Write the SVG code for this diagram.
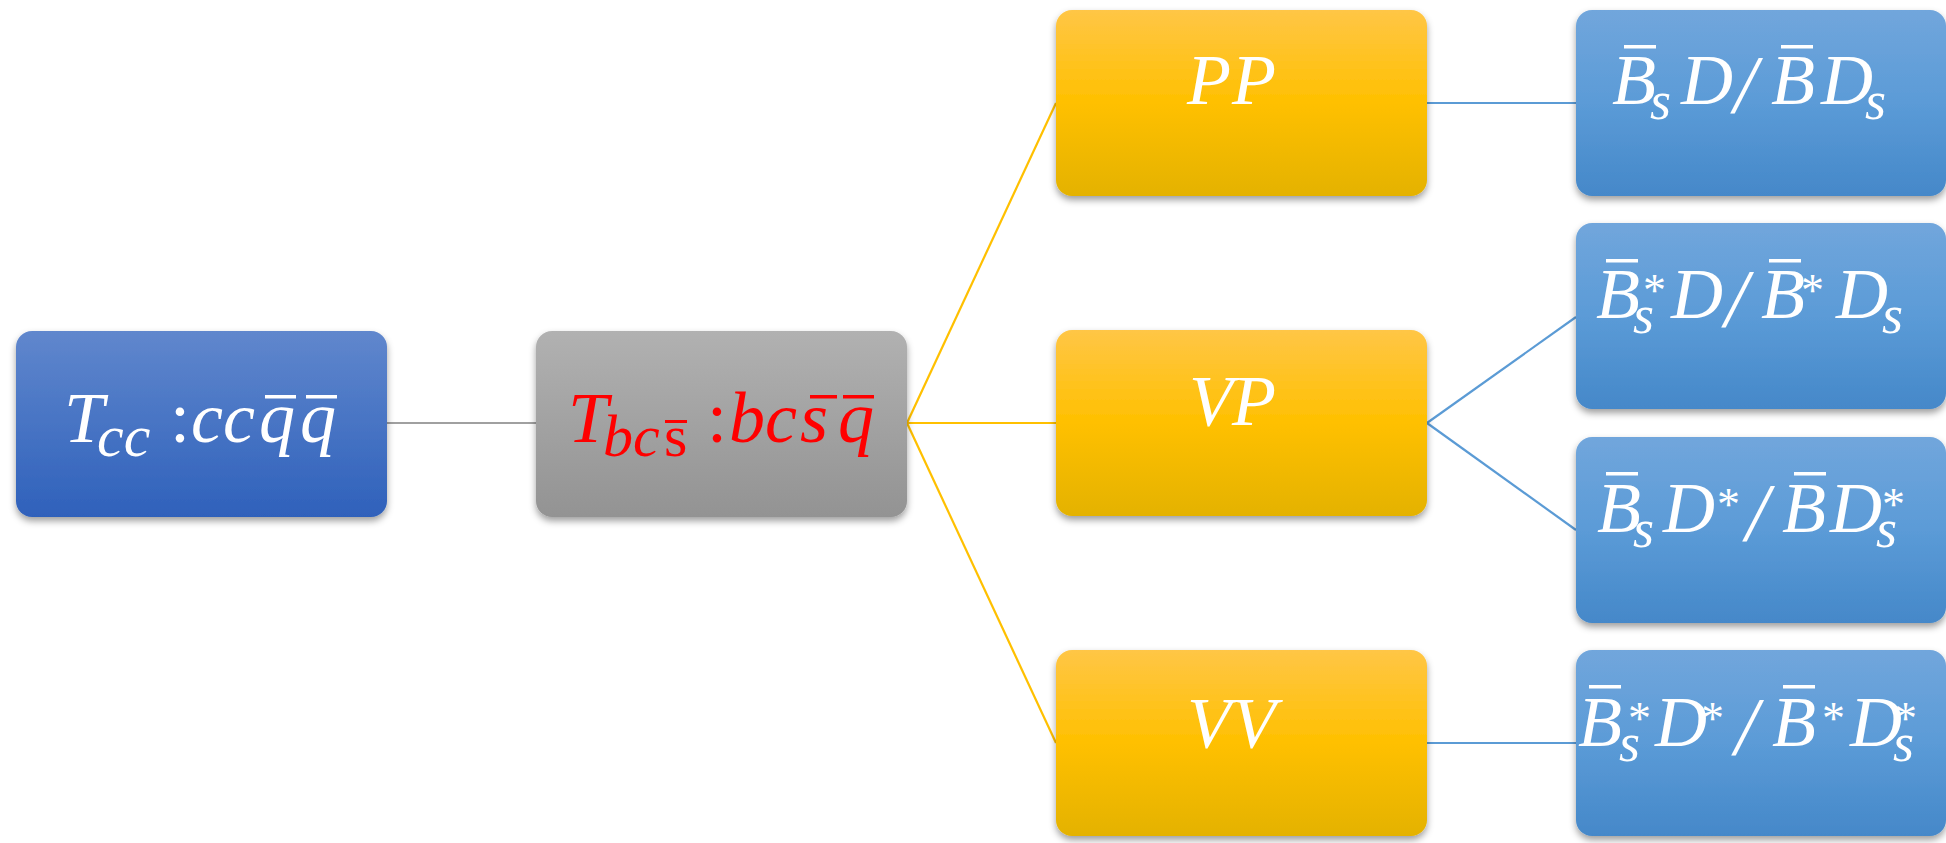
<svg xmlns="http://www.w3.org/2000/svg" width="1946" height="843" viewBox="0 0 1946 843">
<style>
.m{font-family:"Liberation Serif",serif;font-style:italic;font-size:72px;fill:#fff}
.red{fill:#ff0000}
.sub{font-size:60px}
.sub2{font-size:54px}
.sup{font-size:46px;font-style:normal}
.up{font-style:normal}
.bar{fill:#fff}
.rbar{fill:#ff0000}
.c{fill:none;stroke-width:2.2}
</style>
<defs>
<linearGradient id="gBlue" x1="0" y1="0" x2="0" y2="1"><stop offset="0" stop-color="#6087CD"/><stop offset="1" stop-color="#2F61BB"/></linearGradient>
<linearGradient id="gGray" x1="0" y1="0" x2="0" y2="1"><stop offset="0" stop-color="#B1B1B1"/><stop offset="1" stop-color="#939393"/></linearGradient>
<linearGradient id="gYel" x1="0" y1="0" x2="0" y2="1"><stop offset="0" stop-color="#FFC646"/><stop offset="0.5" stop-color="#FFC000"/><stop offset="1" stop-color="#E4B200"/></linearGradient>
<linearGradient id="gLB" x1="0" y1="0" x2="0" y2="1"><stop offset="0" stop-color="#71A6DC"/><stop offset="0.5" stop-color="#5B9BD7"/><stop offset="1" stop-color="#4588C9"/></linearGradient>
<filter id="sh" x="-10%" y="-10%" width="120%" height="125%"><feDropShadow dx="0" dy="4" stdDeviation="3.5" flood-color="#000" flood-opacity="0.38"/></filter>
</defs>
<g id="connectors">
<line class="c" x1="387" y1="423" x2="536" y2="423" stroke="#A0A0A0"/>
<line class="c" x1="907" y1="423" x2="1056" y2="103" stroke="#FFC000"/>
<line class="c" x1="907" y1="423" x2="1056" y2="423" stroke="#FFC000"/>
<line class="c" x1="907" y1="423" x2="1056" y2="743" stroke="#FFC000"/>
<line class="c" x1="1427" y1="103" x2="1576" y2="103" stroke="#5B9BD5"/>
<line class="c" x1="1427" y1="423" x2="1576" y2="317" stroke="#5B9BD5"/>
<line class="c" x1="1427" y1="423" x2="1576" y2="530" stroke="#5B9BD5"/>
<line class="c" x1="1427" y1="743" x2="1576" y2="743" stroke="#5B9BD5"/>
</g>
<g id="n-tcc">
<rect x="16" y="331" width="371" height="186" rx="16" fill="url(#gBlue)" filter="url(#sh)"/>
<text class="m" x="64" y="442">T<tspan class="sub" x="97" y="456">cc</tspan><tspan class="up" x="170" y="442">:</tspan><tspan x="191" y="442">cc</tspan><tspan x="259" y="442">q</tspan><tspan x="300" y="442">q</tspan></text>
<rect class="bar" x="265" y="395" width="31" height="3.5"/>
<rect class="bar" x="306" y="395" width="31" height="3.5"/>
</g>
<g id="n-tbcs">
<rect x="536" y="331" width="371" height="186" rx="16" fill="url(#gGray)" filter="url(#sh)"/>
<text class="m red" x="568" y="442">T<tspan class="sub" x="603" y="456">bc</tspan><tspan class="sub up" x="664" y="456">s</tspan><tspan class="up" x="707" y="442">:</tspan><tspan x="729" y="442">bc</tspan><tspan x="800" y="442">s</tspan><tspan x="838" y="442">q</tspan></text>
<rect class="rbar" x="665" y="420" width="22" height="3"/>
<rect class="rbar" x="810" y="395" width="27" height="3.5"/>
<rect class="rbar" x="843" y="395" width="31" height="3.5"/>
</g>
<g id="n-pp">
<rect x="1056" y="10" width="371" height="186" rx="16" fill="url(#gYel)" filter="url(#sh)"/>
<text class="m" x="1187" y="104">P<tspan x="1232">P</tspan></text>
</g>
<g id="n-vp">
<rect x="1056" y="330" width="371" height="186" rx="16" fill="url(#gYel)" filter="url(#sh)"/>
<text class="m" x="1189" y="425">V<tspan x="1232">P</tspan></text>
</g>
<g id="n-vv">
<rect x="1056" y="650" width="371" height="186" rx="16" fill="url(#gYel)" filter="url(#sh)"/>
<text class="m" x="1187" y="747">V<tspan x="1232">V</tspan></text>
</g>
<g id="n-bsd">
<rect x="1576" y="10" width="370" height="186" rx="16" fill="url(#gLB)" filter="url(#sh)"/>
<text class="m" x="1612" y="104">B<tspan class="sub2" x="1650" y="119">s</tspan><tspan x="1681" y="104">D</tspan><tspan x="1734" y="112" font-size="82">/</tspan><tspan x="1771" y="104">B</tspan><tspan x="1821" y="104">D</tspan><tspan class="sub2" x="1865" y="119">s</tspan></text>
<rect class="bar" x="1624" y="45" width="32" height="3.5"/>
<rect class="bar" x="1781" y="45" width="32" height="3.5"/>
</g>
<g id="n-bsstard">
<rect x="1576" y="223" width="370" height="186" rx="16" fill="url(#gLB)" filter="url(#sh)"/>
<text class="m" x="1596" y="318">B<tspan class="sub2" x="1633" y="333">s</tspan><tspan class="sup" x="1643" y="306">*</tspan><tspan x="1671" y="318">D</tspan><tspan x="1725" y="326" font-size="82">/</tspan><tspan x="1761" y="318">B</tspan><tspan class="sup" x="1801" y="306">*</tspan><tspan x="1836" y="318">D</tspan><tspan class="sub2" x="1882" y="333">s</tspan></text>
<rect class="bar" x="1606" y="259" width="32" height="3.5"/>
<rect class="bar" x="1769" y="259" width="32" height="3.5"/>
</g>
<g id="n-bsdstar">
<rect x="1576" y="437" width="370" height="186" rx="16" fill="url(#gLB)" filter="url(#sh)"/>
<text class="m" x="1597" y="532">B<tspan class="sub2" x="1633" y="547">s</tspan><tspan x="1663" y="532">D</tspan><tspan class="sup" x="1717" y="520">*</tspan><tspan x="1746" y="540" font-size="82">/</tspan><tspan x="1782" y="532">B</tspan><tspan x="1830" y="532">D</tspan><tspan class="sup" x="1882" y="520">*</tspan><tspan class="sub2" x="1876" y="547">s</tspan></text>
<rect class="bar" x="1606" y="472" width="32" height="3.5"/>
<rect class="bar" x="1794" y="472" width="32" height="3.5"/>
</g>
<g id="n-bsstardstar">
<rect x="1576" y="650" width="370" height="186" rx="16" fill="url(#gLB)" filter="url(#sh)"/>
<text class="m" x="1578" y="746">B<tspan class="sub2" x="1619" y="761">s</tspan><tspan class="sup" x="1628" y="734">*</tspan><tspan x="1655" y="746">D</tspan><tspan class="sup" x="1701" y="734">*</tspan><tspan x="1735" y="754" font-size="82">/</tspan><tspan x="1772" y="746">B</tspan><tspan class="sup" x="1822" y="734">*</tspan><tspan x="1850" y="746">D</tspan><tspan class="sup" x="1894" y="734">*</tspan><tspan class="sub2" x="1893" y="761">s</tspan></text>
<rect class="bar" x="1589" y="685" width="32" height="3.5"/>
<rect class="bar" x="1783" y="685" width="32" height="3.5"/>
</g>
</svg>
